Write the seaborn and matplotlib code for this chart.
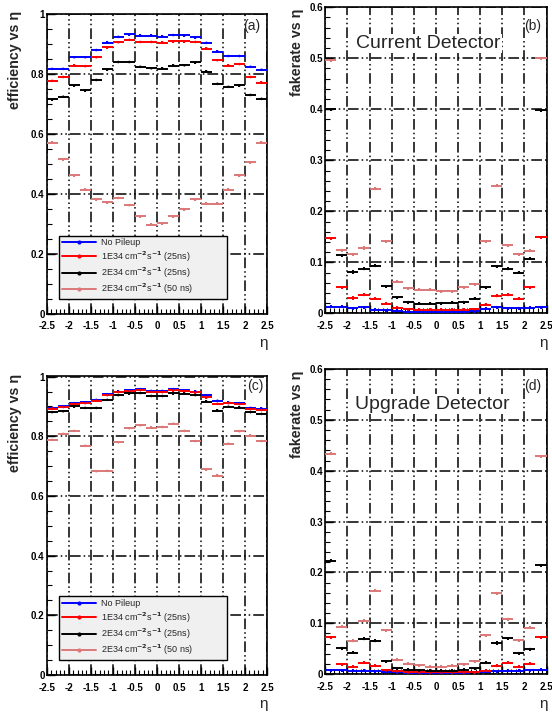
import numpy as np
import pandas as pd
import matplotlib
matplotlib.use("Agg")
import matplotlib.pyplot as plt
import seaborn as sns
from matplotlib.lines import Line2D
from matplotlib.ticker import MultipleLocator, FuncFormatter

# ---------------- data ----------------
eta = [-2.375, -2.125, -1.875, -1.625, -1.375, -1.125, -0.875, -0.625, -0.375, -0.125,
       0.125, 0.375, 0.625, 0.875, 1.125, 1.375, 1.625, 1.875, 2.125, 2.375]
bin_half_width = 0.125

series_names = ["No Pileup",
                "1E34 cm$^{-2}$s$^{-1}$ (25ns)",
                "2E34 cm$^{-2}$s$^{-1}$ (25ns)",
                "2E34 cm$^{-2}$s$^{-1}$ (50 ns)"]
series_colors = ["#0000ff", "#ff0000", "#000000", "#dc7878"]

# (a) efficiency, current detector
eff_cur_nopu = [0.817, 0.817, 0.856, 0.856, 0.880, 0.905, 0.924, 0.932, 0.928, 0.928,
                0.925, 0.930, 0.929, 0.922, 0.904, 0.875, 0.860, 0.860, 0.824, 0.814]
eff_cur_1e34 = [0.777, 0.790, 0.828, 0.826, 0.856, 0.889, 0.906, 0.914, 0.907, 0.907,
                0.905, 0.909, 0.909, 0.907, 0.885, 0.846, 0.828, 0.833, 0.790, 0.771]
eff_cur_2e34 = [0.715, 0.724, 0.762, 0.745, 0.780, 0.815, 0.840, 0.840, 0.824, 0.819,
                0.818, 0.828, 0.829, 0.839, 0.808, 0.767, 0.757, 0.762, 0.730, 0.717]
eff_cur_2e34_50 = [0.571, 0.515, 0.461, 0.414, 0.381, 0.371, 0.386, 0.362, 0.324, 0.297,
                   0.301, 0.324, 0.348, 0.381, 0.367, 0.367, 0.414, 0.461, 0.505, 0.571]

# (b) fakerate, current detector
fake_cur_nopu = [0.013, 0.013, 0.010, 0.012, 0.007, 0.006, 0.005, 0.003, 0.003, 0.003,
                 0.003, 0.003, 0.003, 0.004, 0.009, 0.012, 0.010, 0.010, 0.011, 0.012]
fake_cur_1e34 = [0.147, 0.051, 0.030, 0.036, 0.029, 0.019, 0.011, 0.008, 0.007, 0.007,
                 0.007, 0.007, 0.007, 0.008, 0.017, 0.034, 0.036, 0.029, 0.051, 0.149]
fake_cur_2e34 = [0.400, 0.114, 0.081, 0.087, 0.093, 0.053, 0.031, 0.022, 0.019, 0.019,
                 0.020, 0.021, 0.022, 0.029, 0.051, 0.092, 0.087, 0.080, 0.107, 0.398]
fake_cur_2e34_50 = [0.496, 0.124, 0.116, 0.128, 0.244, 0.141, 0.062, 0.049, 0.046, 0.046,
                    0.043, 0.043, 0.051, 0.057, 0.141, 0.250, 0.133, 0.116, 0.123, 0.500]

# (c) efficiency, upgrade detector
eff_upg_nopu = [0.895, 0.900, 0.911, 0.914, 0.922, 0.941, 0.950, 0.954, 0.958, 0.952,
                0.952, 0.958, 0.954, 0.950, 0.937, 0.919, 0.913, 0.911, 0.895, 0.893]
eff_upg_1e34 = [0.893, 0.898, 0.908, 0.911, 0.919, 0.938, 0.948, 0.951, 0.955, 0.949,
                0.948, 0.954, 0.951, 0.947, 0.930, 0.909, 0.911, 0.908, 0.891, 0.888]
eff_upg_2e34 = [0.881, 0.884, 0.900, 0.895, 0.895, 0.922, 0.938, 0.944, 0.945, 0.935,
                0.935, 0.944, 0.943, 0.938, 0.916, 0.886, 0.899, 0.896, 0.881, 0.875]
eff_upg_2e34_50 = [0.788, 0.808, 0.818, 0.768, 0.683, 0.684, 0.780, 0.827, 0.837, 0.829,
                   0.831, 0.842, 0.818, 0.784, 0.689, 0.668, 0.775, 0.817, 0.802, 0.784]

# (d) fakerate, upgrade detector
fake_upg_nopu = [0.007, 0.007, 0.006, 0.006, 0.005, 0.004, 0.003, 0.002, 0.002, 0.002,
                 0.002, 0.002, 0.002, 0.003, 0.004, 0.005, 0.006, 0.006, 0.007, 0.008]
fake_upg_1e34 = [0.072, 0.019, 0.014, 0.022, 0.016, 0.007, 0.005, 0.003, 0.003, 0.003,
                 0.003, 0.003, 0.003, 0.003, 0.006, 0.016, 0.022, 0.014, 0.020, 0.072]
fake_upg_2e34 = [0.223, 0.051, 0.042, 0.069, 0.065, 0.025, 0.011, 0.008, 0.007, 0.006,
                 0.006, 0.006, 0.008, 0.011, 0.022, 0.061, 0.070, 0.041, 0.049, 0.214]
fake_upg_2e34_50 = [0.433, 0.093, 0.065, 0.105, 0.164, 0.086, 0.028, 0.020, 0.017, 0.014,
                    0.014, 0.016, 0.019, 0.025, 0.076, 0.159, 0.108, 0.066, 0.091, 0.428]

panel_tags = ["(a)", "(b)", "(c)", "(d)"]
detector_titles = ["Current Detector", "Upgrade Detector"]
eff_ticks = [0, 0.2, 0.4, 0.6, 0.8, 1]
fake_ticks = [0, 0.1, 0.2, 0.3, 0.4, 0.5, 0.6]
eta_ticks = [-2.5, -2, -1.5, -1, -0.5, 0, 0.5, 1, 1.5, 2, 2.5]

# ---------------- style ----------------
sns.set_style("white")
plt.rcParams["font.family"] = ["Liberation Sans", "DejaVu Sans"]
plt.rcParams["axes.unicode_minus"] = False
plt.rcParams["font.weight"] = "bold"

W, H = 552, 714
fig = plt.figure(figsize=(W / 100, H / 100), dpi=100)


def px_axes(l, r, t, b):
    return fig.add_axes([l / W, 1 - b / H, (r - l) / W, (b - t) / H])


ax_a = px_axes(46.7, 267.0, 13.5, 313.5)
ax_b = px_axes(325.3, 546.5, 7.3, 313.3)
ax_c = px_axes(46.7, 267.0, 376.0, 675.0)
ax_d = px_axes(325.3, 546.5, 369.0, 674.0)

grid_ls = (0, (7, 2, 1, 2, 1, 2))


def draw(ax, values, yerr):
    df = pd.DataFrame({
        "eta": np.tile(eta, len(series_names)),
        "value": np.concatenate(values),
        "series": np.repeat(series_names, len(eta)),
    })
    for name, col in zip(series_names, series_colors):
        sub = df[df["series"] == name]
        ax.errorbar(sub["eta"], sub["value"], xerr=bin_half_width, yerr=yerr,
                    fmt="none", ecolor=col, elinewidth=1.4, capsize=0, zorder=3)
    sns.scatterplot(data=df, x="eta", y="value", hue="series", hue_order=series_names,
                    palette=series_colors, s=3.5, linewidth=0, legend=False, ax=ax, zorder=4)


def style_axis(ax, ymax, ytick_list, major_minor):
    ax.set_xlim(-2.5, 2.5)
    ax.set_ylim(0, ymax)
    ax.set_xticks(eta_ticks)
    ax.set_yticks(ytick_list)
    ax.xaxis.set_minor_locator(MultipleLocator(0.1))
    ax.yaxis.set_minor_locator(MultipleLocator(major_minor))
    fmt = FuncFormatter(lambda v, p: "%g" % round(v, 3))
    ax.xaxis.set_major_formatter(fmt)
    ax.yaxis.set_major_formatter(fmt)
    ax.tick_params(which="both", direction="in", top=False, right=False,
                   bottom=True, left=True, colors="black", labelsize=7)
    ax.tick_params(which="major", length=6, width=1.0)
    ax.tick_params(which="minor", length=3.5, width=0.8)
    ax.tick_params(axis="x", pad=5.5)
    ax.tick_params(axis="y", pad=1.5)
    ax.set_axisbelow(True)
    ax.grid(True, which="major", color="black", linestyle=grid_ls, linewidth=1.1)
    for s in ax.spines.values():
        s.set_color("black")
        s.set_linewidth(1.2)
    ax.set_xlabel("")
    ax.set_ylabel("")
    ax.text(0.985, -0.098, "η", transform=ax.transAxes, ha="center", va="center",
            fontsize=11, fontweight="normal")


draw(ax_a, [eff_cur_nopu, eff_cur_1e34, eff_cur_2e34, eff_cur_2e34_50], 0.004)
draw(ax_b, [fake_cur_nopu, fake_cur_1e34, fake_cur_2e34, fake_cur_2e34_50], 0.003)
draw(ax_c, [eff_upg_nopu, eff_upg_1e34, eff_upg_2e34, eff_upg_2e34_50], 0.004)
draw(ax_d, [fake_upg_nopu, fake_upg_1e34, fake_upg_2e34, fake_upg_2e34_50], 0.003)

style_axis(ax_a, 1.002, eff_ticks, 0.05)
style_axis(ax_c, 1.002, eff_ticks, 0.05)
style_axis(ax_b, 0.6, fake_ticks, 0.02)
style_axis(ax_d, 0.6, fake_ticks, 0.02)

# y titles
fig.text(15 / W, 1 - 11 / H, "efficiency vs η", rotation=90, ha="center", va="top",
         fontsize=10.3, fontweight="bold")
fig.text(15 / W, 1 - 374 / H, "efficiency vs η", rotation=90, ha="center", va="top",
         fontsize=10.3, fontweight="bold")
fig.text(297 / W, 1 - 9 / H, "fakerate vs η", rotation=90, ha="center", va="top",
         fontsize=10.3, fontweight="bold")
fig.text(297 / W, 1 - 371 / H, "fakerate vs η", rotation=90, ha="center", va="top",
         fontsize=10.3, fontweight="bold")

# panel tags
for ax, tag, (x, y) in zip([ax_a, ax_b, ax_c, ax_d], panel_tags,
                           [(0.932, 0.958), (0.939, 0.939), (0.948, 0.965), (0.939, 0.944)]):
    ax.text(x, y, tag, transform=ax.transAxes, ha="center", va="center",
            fontsize=10, fontweight="normal", zorder=6)

# detector titles
for ax, title, (x, y) in zip([ax_b, ax_d], detector_titles, [(0.467, 0.882), (0.482, 0.885)]):
    ax.text(x, y, title, transform=ax.transAxes, ha="center", va="center",
            fontsize=14, fontweight="normal", zorder=6,
            bbox=dict(facecolor="white", edgecolor="none", pad=1.0))

# legends
handles = [Line2D([0], [0], color=c, lw=1.4, marker="o", markersize=2.0) for c in series_colors]
for ax, yb in [(ax_a, 0.048), (ax_c, 0.05)]:
    leg = ax.legend(handles, series_names, loc="lower left",
                    bbox_to_anchor=(0.056, yb, 0.762, 0.157), mode="expand",
                    borderaxespad=0, handlelength=3.8, handletextpad=0.5,
                    labelspacing=0.22, borderpad=0.3, fancybox=False, framealpha=1,
                    prop={"size": 6.5, "weight": "normal"})
    leg.get_frame().set_facecolor("#f0f0f0")
    leg.get_frame().set_edgecolor("black")
    leg.get_frame().set_linewidth(1.0)
    leg.set_zorder(7)

fig.savefig("out.png", dpi=100)
